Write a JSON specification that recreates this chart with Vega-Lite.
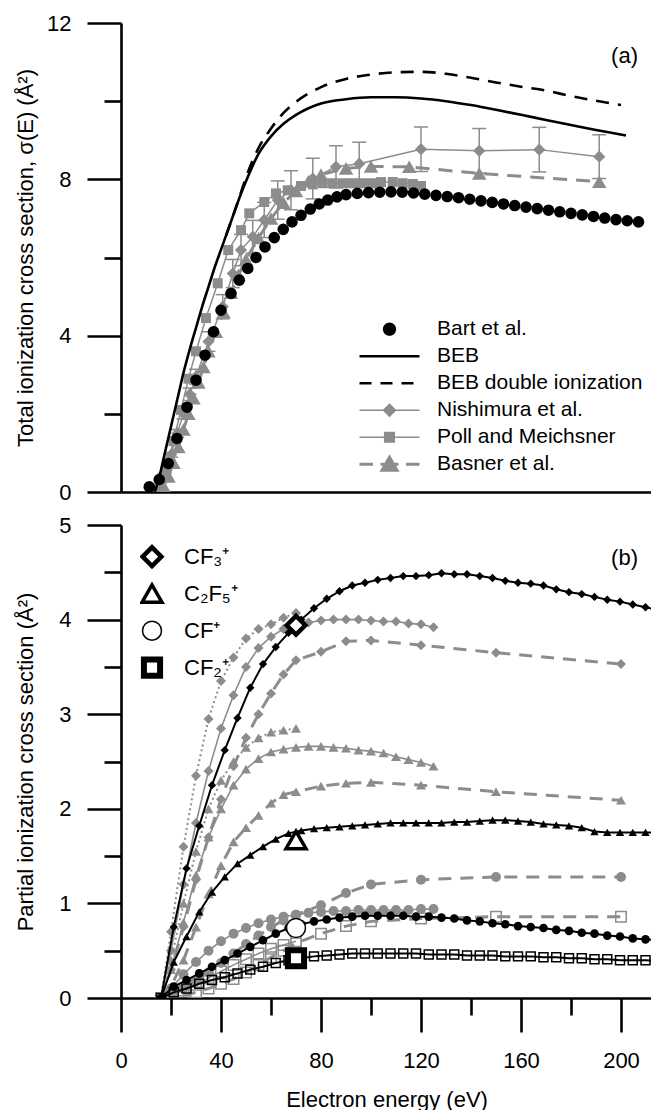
{
"$schema":"https://vega.github.io/schema/vega-lite/v6.json",
"padding":{"left":14,"top":12,"right":0,"bottom":0},
"bounds":"flush",
"spacing":33,
"config":{"font":"Liberation Sans","view":{"stroke":null},
"axis":{"domainColor":"black","domainWidth":2.6,"tickColor":"black","tickWidth":2.6,"labelColor":"black","titleColor":"black","labelFontSize":22,"titleFontSize":22,"titleFontWeight":"normal","grid":false,"labelFont":"Liberation Sans","titleFont":"Liberation Sans","labelFlush":false,"labelOverlap":false},
"legend":{"labelFontSize":21,"labelColor":"black","labelFont":"Liberation Sans","labelLimit":0}},
"resolve":{"scale":{"shape":"independent","size":"independent","strokeWidth":"independent","fillOpacity":"independent","color":"independent","fill":"independent","stroke":"independent"},"legend":{"shape":"independent","size":"independent","strokeWidth":"independent","fill":"independent","stroke":"independent"}},
"datasets":{
"top":[
{"series":"Bart et al.","E":11.3,"s":0.13},{"series":"Bart et al.","E":15.3,"s":0.32},{"series":"Bart et al.","E":18.9,"s":0.73},{"series":"Bart et al.","E":22.4,"s":1.37},{"series":"Bart et al.","E":26.4,"s":2.17},{"series":"Bart et al.","E":30,"s":2.86},{"series":"Bart et al.","E":33.6,"s":3.5},{"series":"Bart et al.","E":37,"s":4.1},{"series":"Bart et al.","E":40,"s":4.65},{"series":"Bart et al.","E":44,"s":5.08},{"series":"Bart et al.","E":47.3,"s":5.42},{"series":"Bart et al.","E":50.7,"s":5.72},{"series":"Bart et al.","E":54,"s":6.0},{"series":"Bart et al.","E":57.6,"s":6.27},{"series":"Bart et al.","E":61.3,"s":6.51},{"series":"Bart et al.","E":64.9,"s":6.72},{"series":"Bart et al.","E":68.4,"s":6.91},{"series":"Bart et al.","E":72,"s":7.08},{"series":"Bart et al.","E":75.7,"s":7.24},{"series":"Bart et al.","E":79.3,"s":7.37},{"series":"Bart et al.","E":82.7,"s":7.47},{"series":"Bart et al.","E":86.4,"s":7.55},{"series":"Bart et al.","E":90,"s":7.61},{"series":"Bart et al.","E":94.5,"s":7.64},{"series":"Bart et al.","E":99,"s":7.66},{"series":"Bart et al.","E":103.5,"s":7.67},{"series":"Bart et al.","E":108,"s":7.68},{"series":"Bart et al.","E":112.5,"s":7.67},{"series":"Bart et al.","E":117,"s":7.65},{"series":"Bart et al.","E":121.5,"s":7.62},{"series":"Bart et al.","E":126,"s":7.59},{"series":"Bart et al.","E":130.5,"s":7.56},{"series":"Bart et al.","E":135,"s":7.53},{"series":"Bart et al.","E":139.5,"s":7.49},{"series":"Bart et al.","E":144,"s":7.45},{"series":"Bart et al.","E":148.5,"s":7.41},{"series":"Bart et al.","E":153,"s":7.37},{"series":"Bart et al.","E":157.5,"s":7.33},{"series":"Bart et al.","E":162,"s":7.29},{"series":"Bart et al.","E":166.5,"s":7.25},{"series":"Bart et al.","E":171,"s":7.21},{"series":"Bart et al.","E":175.5,"s":7.17},{"series":"Bart et al.","E":180,"s":7.13},{"series":"Bart et al.","E":184.5,"s":7.09},{"series":"Bart et al.","E":189,"s":7.05},{"series":"Bart et al.","E":193.5,"s":7.01},{"series":"Bart et al.","E":198,"s":6.97},{"series":"Bart et al.","E":202.5,"s":6.94},{"series":"Bart et al.","E":207,"s":6.91},
{"series":"BEB","E":13.5,"s":0},{"series":"BEB","E":15,"s":0.3},{"series":"BEB","E":17,"s":0.85},{"series":"BEB","E":19,"s":1.4},{"series":"BEB","E":21,"s":1.95},{"series":"BEB","E":23,"s":2.5},{"series":"BEB","E":25,"s":3.05},{"series":"BEB","E":27.5,"s":3.65},{"series":"BEB","E":30,"s":4.2},{"series":"BEB","E":32.5,"s":4.75},{"series":"BEB","E":35,"s":5.25},{"series":"BEB","E":37.5,"s":5.75},{"series":"BEB","E":40,"s":6.2},{"series":"BEB","E":42.5,"s":6.65},{"series":"BEB","E":45,"s":7.1},{"series":"BEB","E":47.5,"s":7.55},{"series":"BEB","E":50,"s":7.95},{"series":"BEB","E":55,"s":8.65},{"series":"BEB","E":60,"s":9.1},{"series":"BEB","E":65,"s":9.42},{"series":"BEB","E":70,"s":9.65},{"series":"BEB","E":75,"s":9.82},{"series":"BEB","E":80,"s":9.94},{"series":"BEB","E":90,"s":10.05},{"series":"BEB","E":100,"s":10.1},{"series":"BEB","E":110,"s":10.1},{"series":"BEB","E":120,"s":10.07},{"series":"BEB","E":130,"s":10.0},{"series":"BEB","E":140,"s":9.9},{"series":"BEB","E":150,"s":9.78},{"series":"BEB","E":160,"s":9.65},{"series":"BEB","E":170,"s":9.52},{"series":"BEB","E":180,"s":9.39},{"series":"BEB","E":190,"s":9.26},{"series":"BEB","E":202,"s":9.12},
{"series":"BEB double ionization","E":42,"s":6.56},{"series":"BEB double ionization","E":45,"s":7.1},{"series":"BEB double ionization","E":47.5,"s":7.57},{"series":"BEB double ionization","E":50,"s":8.05},{"series":"BEB double ionization","E":55,"s":8.8},{"series":"BEB double ionization","E":60,"s":9.3},{"series":"BEB double ionization","E":65,"s":9.7},{"series":"BEB double ionization","E":70,"s":9.98},{"series":"BEB double ionization","E":80,"s":10.36},{"series":"BEB double ionization","E":90,"s":10.57},{"series":"BEB double ionization","E":100,"s":10.68},{"series":"BEB double ionization","E":110,"s":10.74},{"series":"BEB double ionization","E":120,"s":10.75},{"series":"BEB double ionization","E":130,"s":10.7},{"series":"BEB double ionization","E":140,"s":10.6},{"series":"BEB double ionization","E":150,"s":10.48},{"series":"BEB double ionization","E":160,"s":10.37},{"series":"BEB double ionization","E":170,"s":10.27},{"series":"BEB double ionization","E":180,"s":10.13},{"series":"BEB double ionization","E":190,"s":10.01},{"series":"BEB double ionization","E":200,"s":9.9},
{"series":"Nishimura et al.","E":15,"s":0.05,"lo":0.047,"hi":0.053},{"series":"Nishimura et al.","E":17.5,"s":0.45,"lo":0.42,"hi":0.48},{"series":"Nishimura et al.","E":20,"s":0.95,"lo":0.89,"hi":1.01},{"series":"Nishimura et al.","E":22.5,"s":1.5,"lo":1.4,"hi":1.6},{"series":"Nishimura et al.","E":25,"s":2.0,"lo":1.87,"hi":2.13},{"series":"Nishimura et al.","E":27.5,"s":2.5,"lo":2.34,"hi":2.66},{"series":"Nishimura et al.","E":30,"s":2.95,"lo":2.76,"hi":3.14},{"series":"Nishimura et al.","E":35,"s":3.85,"lo":3.6,"hi":4.1},{"series":"Nishimura et al.","E":40.7,"s":4.74,"lo":4.43,"hi":5.05},{"series":"Nishimura et al.","E":44.7,"s":5.59,"lo":5.23,"hi":5.95},{"series":"Nishimura et al.","E":48,"s":6.19,"lo":5.79,"hi":6.59},{"series":"Nishimura et al.","E":52.7,"s":6.53,"lo":6.11,"hi":6.95},{"series":"Nishimura et al.","E":57.3,"s":6.96,"lo":6.51,"hi":7.41},{"series":"Nishimura et al.","E":62.7,"s":7.47,"lo":6.98,"hi":7.96},{"series":"Nishimura et al.","E":68,"s":7.72,"lo":7.22,"hi":8.22},{"series":"Nishimura et al.","E":76.7,"s":8.02,"lo":7.5,"hi":8.54},{"series":"Nishimura et al.","E":86,"s":8.32,"lo":7.78,"hi":8.86},{"series":"Nishimura et al.","E":95.3,"s":8.4,"lo":7.85,"hi":8.95},{"series":"Nishimura et al.","E":120,"s":8.77,"lo":8.2,"hi":9.34},{"series":"Nishimura et al.","E":143.3,"s":8.73,"lo":8.16,"hi":9.3},{"series":"Nishimura et al.","E":167.3,"s":8.76,"lo":8.19,"hi":9.33},{"series":"Nishimura et al.","E":191.3,"s":8.58,"lo":8.02,"hi":9.14},
{"series":"Poll and Meichsner","E":15,"s":0.1},{"series":"Poll and Meichsner","E":18,"s":0.6},{"series":"Poll and Meichsner","E":21,"s":1.3},{"series":"Poll and Meichsner","E":24,"s":2.1},{"series":"Poll and Meichsner","E":27,"s":2.9},{"series":"Poll and Meichsner","E":30,"s":3.6},{"series":"Poll and Meichsner","E":34,"s":4.45},{"series":"Poll and Meichsner","E":38.7,"s":5.34},{"series":"Poll and Meichsner","E":42.9,"s":6.19},{"series":"Poll and Meichsner","E":48,"s":6.7},{"series":"Poll and Meichsner","E":51.3,"s":7.13},{"series":"Poll and Meichsner","E":57.3,"s":7.42},{"series":"Poll and Meichsner","E":62,"s":7.64},{"series":"Poll and Meichsner","E":66.7,"s":7.72},{"series":"Poll and Meichsner","E":72,"s":7.83},{"series":"Poll and Meichsner","E":76.7,"s":7.87},{"series":"Poll and Meichsner","E":80.7,"s":7.9},{"series":"Poll and Meichsner","E":84.7,"s":7.9},{"series":"Poll and Meichsner","E":88.7,"s":7.9},{"series":"Poll and Meichsner","E":92,"s":7.9},{"series":"Poll and Meichsner","E":96,"s":7.9},{"series":"Poll and Meichsner","E":100,"s":7.9},{"series":"Poll and Meichsner","E":104,"s":7.93},{"series":"Poll and Meichsner","E":108.7,"s":7.93},{"series":"Poll and Meichsner","E":112.7,"s":7.9},{"series":"Poll and Meichsner","E":116.7,"s":7.88},{"series":"Poll and Meichsner","E":120,"s":7.83},
{"series":"Basner et al.","E":15,"s":0},{"series":"Basner et al.","E":17,"s":0.15},{"series":"Basner et al.","E":19,"s":0.4},{"series":"Basner et al.","E":21,"s":0.75},{"series":"Basner et al.","E":23,"s":1.15},{"series":"Basner et al.","E":25,"s":1.6},{"series":"Basner et al.","E":27,"s":2.0},{"series":"Basner et al.","E":29,"s":2.4},{"series":"Basner et al.","E":31,"s":2.8},{"series":"Basner et al.","E":33,"s":3.2},{"series":"Basner et al.","E":35,"s":3.6},{"series":"Basner et al.","E":38,"s":4.1},{"series":"Basner et al.","E":41,"s":4.6},{"series":"Basner et al.","E":44,"s":5.1},{"series":"Basner et al.","E":47,"s":5.55},{"series":"Basner et al.","E":50,"s":5.95},{"series":"Basner et al.","E":55,"s":6.5},{"series":"Basner et al.","E":60,"s":7.0},{"series":"Basner et al.","E":65,"s":7.4},{"series":"Basner et al.","E":70,"s":7.7},{"series":"Basner et al.","E":75,"s":7.95},{"series":"Basner et al.","E":80,"s":8.12},{"series":"Basner et al.","E":90,"s":8.28},{"series":"Basner et al.","E":100,"s":8.33},{"series":"Basner et al.","E":115.3,"s":8.32},{"series":"Basner et al.","E":143.3,"s":8.15},{"series":"Basner et al.","E":191.3,"s":7.94}
],
"bot":[
{"src":"Bart","ion":"CF₃⁺","E":16,"s":0},{"src":"Bart","ion":"CF₃⁺","E":21.1,"s":0.75},{"src":"Bart","ion":"CF₃⁺","E":26.2,"s":1.37},{"src":"Bart","ion":"CF₃⁺","E":31.3,"s":1.82},{"src":"Bart","ion":"CF₃⁺","E":36.4,"s":2.25},{"src":"Bart","ion":"CF₃⁺","E":41.5,"s":2.62},{"src":"Bart","ion":"CF₃⁺","E":46.6,"s":2.96},{"src":"Bart","ion":"CF₃⁺","E":51.7,"s":3.28},{"src":"Bart","ion":"CF₃⁺","E":56.8,"s":3.53},{"src":"Bart","ion":"CF₃⁺","E":61.9,"s":3.71},{"src":"Bart","ion":"CF₃⁺","E":67,"s":3.86},{"src":"Bart","ion":"CF₃⁺","E":72.1,"s":4.0},{"src":"Bart","ion":"CF₃⁺","E":77.2,"s":4.12},{"src":"Bart","ion":"CF₃⁺","E":82.3,"s":4.22},{"src":"Bart","ion":"CF₃⁺","E":87.4,"s":4.3},{"src":"Bart","ion":"CF₃⁺","E":92.5,"s":4.36},{"src":"Bart","ion":"CF₃⁺","E":97.6,"s":4.39},{"src":"Bart","ion":"CF₃⁺","E":102.7,"s":4.42},{"src":"Bart","ion":"CF₃⁺","E":107.8,"s":4.44},{"src":"Bart","ion":"CF₃⁺","E":112.9,"s":4.46},{"src":"Bart","ion":"CF₃⁺","E":118,"s":4.46},{"src":"Bart","ion":"CF₃⁺","E":123.1,"s":4.47},{"src":"Bart","ion":"CF₃⁺","E":128.2,"s":4.49},{"src":"Bart","ion":"CF₃⁺","E":133.3,"s":4.48},{"src":"Bart","ion":"CF₃⁺","E":138.4,"s":4.48},{"src":"Bart","ion":"CF₃⁺","E":143.5,"s":4.46},{"src":"Bart","ion":"CF₃⁺","E":148.6,"s":4.44},{"src":"Bart","ion":"CF₃⁺","E":153.7,"s":4.41},{"src":"Bart","ion":"CF₃⁺","E":158.8,"s":4.39},{"src":"Bart","ion":"CF₃⁺","E":163.9,"s":4.38},{"src":"Bart","ion":"CF₃⁺","E":169,"s":4.36},{"src":"Bart","ion":"CF₃⁺","E":174.1,"s":4.32},{"src":"Bart","ion":"CF₃⁺","E":179.2,"s":4.29},{"src":"Bart","ion":"CF₃⁺","E":184.3,"s":4.27},{"src":"Bart","ion":"CF₃⁺","E":189.4,"s":4.24},{"src":"Bart","ion":"CF₃⁺","E":194.5,"s":4.21},{"src":"Bart","ion":"CF₃⁺","E":199.6,"s":4.19},{"src":"Bart","ion":"CF₃⁺","E":204.7,"s":4.16},{"src":"Bart","ion":"CF₃⁺","E":209.8,"s":4.13},{"src":"Bart","ion":"CF₃⁺","E":214.9,"s":4.1},
{"src":"Bart","ion":"C₂F₅⁺","E":16,"s":0},{"src":"Bart","ion":"C₂F₅⁺","E":21.1,"s":0.38},{"src":"Bart","ion":"C₂F₅⁺","E":26.2,"s":0.65},{"src":"Bart","ion":"C₂F₅⁺","E":31.3,"s":0.91},{"src":"Bart","ion":"C₂F₅⁺","E":36.4,"s":1.12},{"src":"Bart","ion":"C₂F₅⁺","E":41.5,"s":1.28},{"src":"Bart","ion":"C₂F₅⁺","E":46.6,"s":1.42},{"src":"Bart","ion":"C₂F₅⁺","E":51.7,"s":1.51},{"src":"Bart","ion":"C₂F₅⁺","E":56.8,"s":1.6},{"src":"Bart","ion":"C₂F₅⁺","E":61.9,"s":1.68},{"src":"Bart","ion":"C₂F₅⁺","E":67,"s":1.74},{"src":"Bart","ion":"C₂F₅⁺","E":72.1,"s":1.77},{"src":"Bart","ion":"C₂F₅⁺","E":77.2,"s":1.79},{"src":"Bart","ion":"C₂F₅⁺","E":82.3,"s":1.8},{"src":"Bart","ion":"C₂F₅⁺","E":87.4,"s":1.81},{"src":"Bart","ion":"C₂F₅⁺","E":92.5,"s":1.82},{"src":"Bart","ion":"C₂F₅⁺","E":97.6,"s":1.83},{"src":"Bart","ion":"C₂F₅⁺","E":102.7,"s":1.84},{"src":"Bart","ion":"C₂F₅⁺","E":107.8,"s":1.85},{"src":"Bart","ion":"C₂F₅⁺","E":112.9,"s":1.85},{"src":"Bart","ion":"C₂F₅⁺","E":118,"s":1.85},{"src":"Bart","ion":"C₂F₅⁺","E":123.1,"s":1.85},{"src":"Bart","ion":"C₂F₅⁺","E":128.2,"s":1.85},{"src":"Bart","ion":"C₂F₅⁺","E":133.3,"s":1.86},{"src":"Bart","ion":"C₂F₅⁺","E":138.4,"s":1.86},{"src":"Bart","ion":"C₂F₅⁺","E":143.5,"s":1.87},{"src":"Bart","ion":"C₂F₅⁺","E":148.6,"s":1.88},{"src":"Bart","ion":"C₂F₅⁺","E":153.7,"s":1.88},{"src":"Bart","ion":"C₂F₅⁺","E":158.8,"s":1.87},{"src":"Bart","ion":"C₂F₅⁺","E":163.9,"s":1.86},{"src":"Bart","ion":"C₂F₅⁺","E":169,"s":1.84},{"src":"Bart","ion":"C₂F₅⁺","E":174.1,"s":1.83},{"src":"Bart","ion":"C₂F₅⁺","E":179.2,"s":1.82},{"src":"Bart","ion":"C₂F₅⁺","E":184.3,"s":1.8},{"src":"Bart","ion":"C₂F₅⁺","E":189.4,"s":1.76},{"src":"Bart","ion":"C₂F₅⁺","E":194.5,"s":1.75},{"src":"Bart","ion":"C₂F₅⁺","E":199.6,"s":1.75},{"src":"Bart","ion":"C₂F₅⁺","E":204.7,"s":1.75},{"src":"Bart","ion":"C₂F₅⁺","E":209.8,"s":1.75},{"src":"Bart","ion":"C₂F₅⁺","E":214.9,"s":1.75},
{"src":"Bart","ion":"CF⁺","E":16,"s":0},{"src":"Bart","ion":"CF⁺","E":21.1,"s":0.12},{"src":"Bart","ion":"CF⁺","E":26.2,"s":0.19},{"src":"Bart","ion":"CF⁺","E":31.3,"s":0.26},{"src":"Bart","ion":"CF⁺","E":36.4,"s":0.33},{"src":"Bart","ion":"CF⁺","E":41.5,"s":0.4},{"src":"Bart","ion":"CF⁺","E":46.6,"s":0.47},{"src":"Bart","ion":"CF⁺","E":51.7,"s":0.54},{"src":"Bart","ion":"CF⁺","E":56.8,"s":0.61},{"src":"Bart","ion":"CF⁺","E":61.9,"s":0.68},{"src":"Bart","ion":"CF⁺","E":67,"s":0.74},{"src":"Bart","ion":"CF⁺","E":72.1,"s":0.78},{"src":"Bart","ion":"CF⁺","E":77.2,"s":0.81},{"src":"Bart","ion":"CF⁺","E":82.3,"s":0.83},{"src":"Bart","ion":"CF⁺","E":87.4,"s":0.85},{"src":"Bart","ion":"CF⁺","E":92.5,"s":0.86},{"src":"Bart","ion":"CF⁺","E":97.6,"s":0.87},{"src":"Bart","ion":"CF⁺","E":102.7,"s":0.87},{"src":"Bart","ion":"CF⁺","E":107.8,"s":0.87},{"src":"Bart","ion":"CF⁺","E":112.9,"s":0.87},{"src":"Bart","ion":"CF⁺","E":118,"s":0.86},{"src":"Bart","ion":"CF⁺","E":123.1,"s":0.86},{"src":"Bart","ion":"CF⁺","E":128.2,"s":0.85},{"src":"Bart","ion":"CF⁺","E":133.3,"s":0.84},{"src":"Bart","ion":"CF⁺","E":138.4,"s":0.82},{"src":"Bart","ion":"CF⁺","E":143.5,"s":0.81},{"src":"Bart","ion":"CF⁺","E":148.6,"s":0.79},{"src":"Bart","ion":"CF⁺","E":153.7,"s":0.78},{"src":"Bart","ion":"CF⁺","E":158.8,"s":0.76},{"src":"Bart","ion":"CF⁺","E":163.9,"s":0.75},{"src":"Bart","ion":"CF⁺","E":169,"s":0.74},{"src":"Bart","ion":"CF⁺","E":174.1,"s":0.72},{"src":"Bart","ion":"CF⁺","E":179.2,"s":0.71},{"src":"Bart","ion":"CF⁺","E":184.3,"s":0.69},{"src":"Bart","ion":"CF⁺","E":189.4,"s":0.68},{"src":"Bart","ion":"CF⁺","E":194.5,"s":0.66},{"src":"Bart","ion":"CF⁺","E":199.6,"s":0.65},{"src":"Bart","ion":"CF⁺","E":204.7,"s":0.63},{"src":"Bart","ion":"CF⁺","E":209.8,"s":0.62},{"src":"Bart","ion":"CF⁺","E":214.9,"s":0.61},
{"src":"Bart","ion":"CF₂⁺","E":16,"s":0},{"src":"Bart","ion":"CF₂⁺","E":21.1,"s":0.06},{"src":"Bart","ion":"CF₂⁺","E":26.2,"s":0.1},{"src":"Bart","ion":"CF₂⁺","E":31.3,"s":0.15},{"src":"Bart","ion":"CF₂⁺","E":36.4,"s":0.19},{"src":"Bart","ion":"CF₂⁺","E":41.5,"s":0.22},{"src":"Bart","ion":"CF₂⁺","E":46.6,"s":0.26},{"src":"Bart","ion":"CF₂⁺","E":51.7,"s":0.3},{"src":"Bart","ion":"CF₂⁺","E":56.8,"s":0.33},{"src":"Bart","ion":"CF₂⁺","E":61.9,"s":0.37},{"src":"Bart","ion":"CF₂⁺","E":67,"s":0.4},{"src":"Bart","ion":"CF₂⁺","E":72.1,"s":0.42},{"src":"Bart","ion":"CF₂⁺","E":77.2,"s":0.44},{"src":"Bart","ion":"CF₂⁺","E":82.3,"s":0.45},{"src":"Bart","ion":"CF₂⁺","E":87.4,"s":0.46},{"src":"Bart","ion":"CF₂⁺","E":92.5,"s":0.47},{"src":"Bart","ion":"CF₂⁺","E":97.6,"s":0.47},{"src":"Bart","ion":"CF₂⁺","E":102.7,"s":0.47},{"src":"Bart","ion":"CF₂⁺","E":107.8,"s":0.47},{"src":"Bart","ion":"CF₂⁺","E":112.9,"s":0.47},{"src":"Bart","ion":"CF₂⁺","E":118,"s":0.47},{"src":"Bart","ion":"CF₂⁺","E":123.1,"s":0.46},{"src":"Bart","ion":"CF₂⁺","E":128.2,"s":0.46},{"src":"Bart","ion":"CF₂⁺","E":133.3,"s":0.46},{"src":"Bart","ion":"CF₂⁺","E":138.4,"s":0.45},{"src":"Bart","ion":"CF₂⁺","E":143.5,"s":0.45},{"src":"Bart","ion":"CF₂⁺","E":148.6,"s":0.45},{"src":"Bart","ion":"CF₂⁺","E":153.7,"s":0.44},{"src":"Bart","ion":"CF₂⁺","E":158.8,"s":0.44},{"src":"Bart","ion":"CF₂⁺","E":163.9,"s":0.44},{"src":"Bart","ion":"CF₂⁺","E":169,"s":0.43},{"src":"Bart","ion":"CF₂⁺","E":174.1,"s":0.43},{"src":"Bart","ion":"CF₂⁺","E":179.2,"s":0.42},{"src":"Bart","ion":"CF₂⁺","E":184.3,"s":0.42},{"src":"Bart","ion":"CF₂⁺","E":189.4,"s":0.41},{"src":"Bart","ion":"CF₂⁺","E":194.5,"s":0.41},{"src":"Bart","ion":"CF₂⁺","E":199.6,"s":0.4},{"src":"Bart","ion":"CF₂⁺","E":204.7,"s":0.4},{"src":"Bart","ion":"CF₂⁺","E":209.8,"s":0.4},{"src":"Bart","ion":"CF₂⁺","E":214.9,"s":0.39},
{"src":"Nishimura","ion":"CF₃⁺","E":16,"s":0},{"src":"Nishimura","ion":"CF₃⁺","E":20,"s":0.5},{"src":"Nishimura","ion":"CF₃⁺","E":25,"s":1.2},{"src":"Nishimura","ion":"CF₃⁺","E":30,"s":1.85},{"src":"Nishimura","ion":"CF₃⁺","E":35,"s":2.4},{"src":"Nishimura","ion":"CF₃⁺","E":40,"s":2.85},{"src":"Nishimura","ion":"CF₃⁺","E":45,"s":3.2},{"src":"Nishimura","ion":"CF₃⁺","E":50,"s":3.5},{"src":"Nishimura","ion":"CF₃⁺","E":55,"s":3.7},{"src":"Nishimura","ion":"CF₃⁺","E":60,"s":3.82},{"src":"Nishimura","ion":"CF₃⁺","E":65,"s":3.9},{"src":"Nishimura","ion":"CF₃⁺","E":70,"s":3.95},{"src":"Nishimura","ion":"CF₃⁺","E":75,"s":3.97},{"src":"Nishimura","ion":"CF₃⁺","E":80,"s":3.99},{"src":"Nishimura","ion":"CF₃⁺","E":85,"s":4.0},{"src":"Nishimura","ion":"CF₃⁺","E":90,"s":4.0},{"src":"Nishimura","ion":"CF₃⁺","E":95,"s":4.0},{"src":"Nishimura","ion":"CF₃⁺","E":100,"s":3.99},{"src":"Nishimura","ion":"CF₃⁺","E":105,"s":3.98},{"src":"Nishimura","ion":"CF₃⁺","E":110,"s":3.98},{"src":"Nishimura","ion":"CF₃⁺","E":115,"s":3.96},{"src":"Nishimura","ion":"CF₃⁺","E":120,"s":3.95},{"src":"Nishimura","ion":"CF₃⁺","E":125,"s":3.92},
{"src":"Nishimura","ion":"C₂F₅⁺","E":16,"s":0},{"src":"Nishimura","ion":"C₂F₅⁺","E":20,"s":0.3},{"src":"Nishimura","ion":"C₂F₅⁺","E":25,"s":0.8},{"src":"Nishimura","ion":"C₂F₅⁺","E":30,"s":1.3},{"src":"Nishimura","ion":"C₂F₅⁺","E":35,"s":1.7},{"src":"Nishimura","ion":"C₂F₅⁺","E":40,"s":2.0},{"src":"Nishimura","ion":"C₂F₅⁺","E":45,"s":2.25},{"src":"Nishimura","ion":"C₂F₅⁺","E":50,"s":2.42},{"src":"Nishimura","ion":"C₂F₅⁺","E":55,"s":2.53},{"src":"Nishimura","ion":"C₂F₅⁺","E":60,"s":2.6},{"src":"Nishimura","ion":"C₂F₅⁺","E":65,"s":2.63},{"src":"Nishimura","ion":"C₂F₅⁺","E":70,"s":2.65},{"src":"Nishimura","ion":"C₂F₅⁺","E":75,"s":2.66},{"src":"Nishimura","ion":"C₂F₅⁺","E":80,"s":2.66},{"src":"Nishimura","ion":"C₂F₅⁺","E":85,"s":2.65},{"src":"Nishimura","ion":"C₂F₅⁺","E":90,"s":2.64},{"src":"Nishimura","ion":"C₂F₅⁺","E":95,"s":2.62},{"src":"Nishimura","ion":"C₂F₅⁺","E":100,"s":2.61},{"src":"Nishimura","ion":"C₂F₅⁺","E":105,"s":2.59},{"src":"Nishimura","ion":"C₂F₅⁺","E":110,"s":2.55},{"src":"Nishimura","ion":"C₂F₅⁺","E":115,"s":2.52},{"src":"Nishimura","ion":"C₂F₅⁺","E":120,"s":2.49},{"src":"Nishimura","ion":"C₂F₅⁺","E":125,"s":2.45},
{"src":"Nishimura","ion":"CF⁺","E":16,"s":0},{"src":"Nishimura","ion":"CF⁺","E":20,"s":0.1},{"src":"Nishimura","ion":"CF⁺","E":25,"s":0.25},{"src":"Nishimura","ion":"CF⁺","E":30,"s":0.38},{"src":"Nishimura","ion":"CF⁺","E":35,"s":0.5},{"src":"Nishimura","ion":"CF⁺","E":40,"s":0.6},{"src":"Nishimura","ion":"CF⁺","E":45,"s":0.68},{"src":"Nishimura","ion":"CF⁺","E":50,"s":0.74},{"src":"Nishimura","ion":"CF⁺","E":55,"s":0.79},{"src":"Nishimura","ion":"CF⁺","E":60,"s":0.83},{"src":"Nishimura","ion":"CF⁺","E":65,"s":0.86},{"src":"Nishimura","ion":"CF⁺","E":70,"s":0.88},{"src":"Nishimura","ion":"CF⁺","E":75,"s":0.9},{"src":"Nishimura","ion":"CF⁺","E":80,"s":0.91},{"src":"Nishimura","ion":"CF⁺","E":85,"s":0.92},{"src":"Nishimura","ion":"CF⁺","E":90,"s":0.92},{"src":"Nishimura","ion":"CF⁺","E":95,"s":0.93},{"src":"Nishimura","ion":"CF⁺","E":100,"s":0.93},{"src":"Nishimura","ion":"CF⁺","E":105,"s":0.93},{"src":"Nishimura","ion":"CF⁺","E":110,"s":0.93},{"src":"Nishimura","ion":"CF⁺","E":115,"s":0.93},{"src":"Nishimura","ion":"CF⁺","E":120,"s":0.94},{"src":"Nishimura","ion":"CF⁺","E":125,"s":0.94},
{"src":"Nishimura","ion":"CF₂⁺","E":16,"s":0},{"src":"Nishimura","ion":"CF₂⁺","E":20,"s":0.03},{"src":"Nishimura","ion":"CF₂⁺","E":25,"s":0.08},{"src":"Nishimura","ion":"CF₂⁺","E":30,"s":0.14},{"src":"Nishimura","ion":"CF₂⁺","E":35,"s":0.21},{"src":"Nishimura","ion":"CF₂⁺","E":40,"s":0.28},{"src":"Nishimura","ion":"CF₂⁺","E":45,"s":0.35},{"src":"Nishimura","ion":"CF₂⁺","E":50,"s":0.41},{"src":"Nishimura","ion":"CF₂⁺","E":55,"s":0.47},{"src":"Nishimura","ion":"CF₂⁺","E":60,"s":0.52},{"src":"Nishimura","ion":"CF₂⁺","E":65,"s":0.56},{"src":"Nishimura","ion":"CF₂⁺","E":70,"s":0.6},
{"src":"Poll","ion":"CF₃⁺","E":16,"s":0},{"src":"Poll","ion":"CF₃⁺","E":20,"s":0.7},{"src":"Poll","ion":"CF₃⁺","E":25,"s":1.6},{"src":"Poll","ion":"CF₃⁺","E":30,"s":2.35},{"src":"Poll","ion":"CF₃⁺","E":35,"s":2.95},{"src":"Poll","ion":"CF₃⁺","E":40,"s":3.35},{"src":"Poll","ion":"CF₃⁺","E":45,"s":3.6},{"src":"Poll","ion":"CF₃⁺","E":50,"s":3.8},{"src":"Poll","ion":"CF₃⁺","E":55,"s":3.9},{"src":"Poll","ion":"CF₃⁺","E":60,"s":3.95},{"src":"Poll","ion":"CF₃⁺","E":65,"s":4.02},{"src":"Poll","ion":"CF₃⁺","E":70,"s":4.07},
{"src":"Poll","ion":"C₂F₅⁺","E":16,"s":0},{"src":"Poll","ion":"C₂F₅⁺","E":20,"s":0.4},{"src":"Poll","ion":"C₂F₅⁺","E":25,"s":1.0},{"src":"Poll","ion":"C₂F₅⁺","E":30,"s":1.55},{"src":"Poll","ion":"C₂F₅⁺","E":35,"s":2.0},{"src":"Poll","ion":"C₂F₅⁺","E":40,"s":2.3},{"src":"Poll","ion":"C₂F₅⁺","E":45,"s":2.5},{"src":"Poll","ion":"C₂F₅⁺","E":50,"s":2.65},{"src":"Poll","ion":"C₂F₅⁺","E":55,"s":2.75},{"src":"Poll","ion":"C₂F₅⁺","E":60,"s":2.81},{"src":"Poll","ion":"C₂F₅⁺","E":65,"s":2.83},{"src":"Poll","ion":"C₂F₅⁺","E":70,"s":2.85},
{"src":"Basner","ion":"CF₃⁺","E":16,"s":0},{"src":"Basner","ion":"CF₃⁺","E":20,"s":0.3},{"src":"Basner","ion":"CF₃⁺","E":25,"s":0.75},{"src":"Basner","ion":"CF₃⁺","E":30,"s":1.25},{"src":"Basner","ion":"CF₃⁺","E":35,"s":1.7},{"src":"Basner","ion":"CF₃⁺","E":40,"s":2.1},{"src":"Basner","ion":"CF₃⁺","E":45,"s":2.45},{"src":"Basner","ion":"CF₃⁺","E":50,"s":2.75},{"src":"Basner","ion":"CF₃⁺","E":55,"s":3.0},{"src":"Basner","ion":"CF₃⁺","E":60,"s":3.22},{"src":"Basner","ion":"CF₃⁺","E":65,"s":3.42},{"src":"Basner","ion":"CF₃⁺","E":70,"s":3.57},{"src":"Basner","ion":"CF₃⁺","E":80,"s":3.66},{"src":"Basner","ion":"CF₃⁺","E":90,"s":3.77},{"src":"Basner","ion":"CF₃⁺","E":100,"s":3.78},{"src":"Basner","ion":"CF₃⁺","E":120,"s":3.73},{"src":"Basner","ion":"CF₃⁺","E":150,"s":3.65},{"src":"Basner","ion":"CF₃⁺","E":200,"s":3.53},
{"src":"Basner","ion":"C₂F₅⁺","E":16,"s":0},{"src":"Basner","ion":"C₂F₅⁺","E":20,"s":0.12},{"src":"Basner","ion":"C₂F₅⁺","E":25,"s":0.4},{"src":"Basner","ion":"C₂F₅⁺","E":30,"s":0.75},{"src":"Basner","ion":"C₂F₅⁺","E":35,"s":1.1},{"src":"Basner","ion":"C₂F₅⁺","E":40,"s":1.4},{"src":"Basner","ion":"C₂F₅⁺","E":45,"s":1.65},{"src":"Basner","ion":"C₂F₅⁺","E":50,"s":1.8},{"src":"Basner","ion":"C₂F₅⁺","E":55,"s":1.93},{"src":"Basner","ion":"C₂F₅⁺","E":60,"s":2.06},{"src":"Basner","ion":"C₂F₅⁺","E":65,"s":2.15},{"src":"Basner","ion":"C₂F₅⁺","E":70,"s":2.18},{"src":"Basner","ion":"C₂F₅⁺","E":80,"s":2.24},{"src":"Basner","ion":"C₂F₅⁺","E":90,"s":2.27},{"src":"Basner","ion":"C₂F₅⁺","E":100,"s":2.28},{"src":"Basner","ion":"C₂F₅⁺","E":120,"s":2.25},{"src":"Basner","ion":"C₂F₅⁺","E":150,"s":2.18},{"src":"Basner","ion":"C₂F₅⁺","E":200,"s":2.09},
{"src":"Basner","ion":"CF⁺","E":16,"s":0},{"src":"Basner","ion":"CF⁺","E":20,"s":0.03},{"src":"Basner","ion":"CF⁺","E":25,"s":0.1},{"src":"Basner","ion":"CF⁺","E":30,"s":0.18},{"src":"Basner","ion":"CF⁺","E":35,"s":0.27},{"src":"Basner","ion":"CF⁺","E":40,"s":0.37},{"src":"Basner","ion":"CF⁺","E":45,"s":0.47},{"src":"Basner","ion":"CF⁺","E":50,"s":0.57},{"src":"Basner","ion":"CF⁺","E":55,"s":0.66},{"src":"Basner","ion":"CF⁺","E":60,"s":0.75},{"src":"Basner","ion":"CF⁺","E":65,"s":0.82},{"src":"Basner","ion":"CF⁺","E":70,"s":0.88},{"src":"Basner","ion":"CF⁺","E":80,"s":0.98},{"src":"Basner","ion":"CF⁺","E":90,"s":1.11},{"src":"Basner","ion":"CF⁺","E":100,"s":1.2},{"src":"Basner","ion":"CF⁺","E":120,"s":1.25},{"src":"Basner","ion":"CF⁺","E":150,"s":1.28},{"src":"Basner","ion":"CF⁺","E":200,"s":1.28},
{"src":"Basner","ion":"CF₂⁺","E":16,"s":0},{"src":"Basner","ion":"CF₂⁺","E":20,"s":0.01},{"src":"Basner","ion":"CF₂⁺","E":25,"s":0.03},{"src":"Basner","ion":"CF₂⁺","E":30,"s":0.06},{"src":"Basner","ion":"CF₂⁺","E":35,"s":0.1},{"src":"Basner","ion":"CF₂⁺","E":40,"s":0.15},{"src":"Basner","ion":"CF₂⁺","E":45,"s":0.2},{"src":"Basner","ion":"CF₂⁺","E":50,"s":0.27},{"src":"Basner","ion":"CF₂⁺","E":55,"s":0.35},{"src":"Basner","ion":"CF₂⁺","E":60,"s":0.43},{"src":"Basner","ion":"CF₂⁺","E":65,"s":0.5},{"src":"Basner","ion":"CF₂⁺","E":70,"s":0.58},{"src":"Basner","ion":"CF₂⁺","E":80,"s":0.68},{"src":"Basner","ion":"CF₂⁺","E":90,"s":0.76},{"src":"Basner","ion":"CF₂⁺","E":100,"s":0.81},{"src":"Basner","ion":"CF₂⁺","E":120,"s":0.84},{"src":"Basner","ion":"CF₂⁺","E":150,"s":0.86},{"src":"Basner","ion":"CF₂⁺","E":200,"s":0.86}
],
"big":[{"ion":"CF₃⁺","E":70,"s":3.94},{"ion":"C₂F₅⁺","E":70,"s":1.67},{"ion":"CF⁺","E":70,"s":0.74},{"ion":"CF₂⁺","E":70,"s":0.42}]
},
"vconcat":[
{"width":531,"height":469,
"title":{"text":"(a)","anchor":"end","frame":"group","orient":"top","offset":0,"dx":-14,"dy":66,"baseline":"middle","fontSize":22,"fontWeight":"normal","font":"Liberation Sans","color":"black"},
"encoding":{
"x":{"field":"E","type":"quantitative","scale":{"domain":[0,212.4],"nice":false,"zero":false},"axis":{"labels":false,"ticks":false,"title":null}},
"y":{"field":"s","type":"quantitative","scale":{"domain":[0,12],"nice":false},"axis":{"values":[0,2,4,6,8,10,12],"labelExpr":"datum.value % 4 === 0 ? datum.label : ''","tickSize":34,"tickDash":{"condition":{"test":"datum.value % 4 !== 0","value":[17,40]},"value":[100,0]},"labelPadding":16,"minExtent":74,"maxExtent":74,"title":"Total ionization cross section, σ(E)  (Å²)","titlePadding":10}}},
"layer":[
{"data":{"values":[{}]},"mark":{"type":"rule","color":"black","strokeWidth":2.6},"encoding":{
"x":{"datum":0,"type":"quantitative","scale":{"domain":[0,212.4],"nice":false,"zero":false},"axis":{"labels":false,"ticks":false,"title":null}},
"x2":{"datum":212.4},
"y":{"datum":12,"type":"quantitative","scale":{"domain":[0,12],"nice":false},"axis":{"values":[0,2,4,6,8,10,12],"labelExpr":"datum.value % 4 === 0 ? datum.label : ''","tickSize":34,"tickDash":{"condition":{"test":"datum.value % 4 !== 0","value":[17,40]},"value":[100,0]},"labelPadding":16,"minExtent":74,"maxExtent":74,"title":"Total ionization cross section, σ(E)  (Å²)","titlePadding":10}}}},
{"data":{"name":"top"},"transform":[{"filter":"datum.series === 'Basner et al.'"}],"mark":{"type":"line","color":"#8c8c8c","strokeWidth":3,"strokeDash":[14,9],"clip":true}},
{"data":{"name":"top"},"transform":[{"filter":"datum.series === 'Poll and Meichsner'"}],"mark":{"type":"line","color":"#8c8c8c","strokeWidth":1.5,"clip":true}},
{"data":{"name":"top"},"transform":[{"filter":"datum.series === 'Nishimura et al.'"}],"mark":{"type":"line","color":"#8c8c8c","strokeWidth":1.5,"clip":true}},
{"data":{"name":"top"},"transform":[{"filter":"datum.series === 'Nishimura et al.'"}],"mark":{"type":"rule","color":"#8c8c8c","strokeWidth":1.5,"clip":true},
"encoding":{"y":{"field":"lo","type":"quantitative","scale":{"domain":[0,12],"nice":false},"axis":{"values":[0,2,4,6,8,10,12],"labelExpr":"datum.value % 4 === 0 ? datum.label : ''","tickSize":34,"tickDash":{"condition":{"test":"datum.value % 4 !== 0","value":[17,40]},"value":[100,0]},"labelPadding":16,"minExtent":74,"maxExtent":74,"title":"Total ionization cross section, σ(E)  (Å²)","titlePadding":10}},"y2":{"field":"hi"}}},
{"data":{"name":"top"},"transform":[{"filter":"datum.series === 'Nishimura et al.'"}],"mark":{"type":"tick","orient":"horizontal","color":"#8c8c8c","size":14,"thickness":1.5,"opacity":1,"clip":true},
"encoding":{"y":{"field":"lo","type":"quantitative","scale":{"domain":[0,12],"nice":false},"axis":{"values":[0,2,4,6,8,10,12],"labelExpr":"datum.value % 4 === 0 ? datum.label : ''","tickSize":34,"tickDash":{"condition":{"test":"datum.value % 4 !== 0","value":[17,40]},"value":[100,0]},"labelPadding":16,"minExtent":74,"maxExtent":74,"title":"Total ionization cross section, σ(E)  (Å²)","titlePadding":10}}}},
{"data":{"name":"top"},"transform":[{"filter":"datum.series === 'Nishimura et al.'"}],"mark":{"type":"tick","orient":"horizontal","color":"#8c8c8c","size":14,"thickness":1.5,"opacity":1,"clip":true},
"encoding":{"y":{"field":"hi","type":"quantitative","scale":{"domain":[0,12],"nice":false},"axis":{"values":[0,2,4,6,8,10,12],"labelExpr":"datum.value % 4 === 0 ? datum.label : ''","tickSize":34,"tickDash":{"condition":{"test":"datum.value % 4 !== 0","value":[17,40]},"value":[100,0]},"labelPadding":16,"minExtent":74,"maxExtent":74,"title":"Total ionization cross section, σ(E)  (Å²)","titlePadding":10}}}},
{"data":{"name":"top"},"transform":[{"filter":"datum.series === 'Basner et al.'"}],"mark":{"type":"point","shape":"triangle-up","filled":true,"color":"#8c8c8c","size":210,"opacity":1,"clip":true}},
{"data":{"name":"top"},"transform":[{"filter":"datum.series === 'Poll and Meichsner'"}],"mark":{"type":"point","shape":"square","filled":true,"color":"#8c8c8c","size":100,"opacity":1,"clip":true}},
{"data":{"name":"top"},"transform":[{"filter":"datum.series === 'Nishimura et al.'"}],"mark":{"type":"point","shape":"diamond","filled":true,"color":"#8c8c8c","size":150,"opacity":1,"clip":true}},
{"data":{"name":"top"},"transform":[{"filter":"datum.series === 'BEB double ionization'"}],"mark":{"type":"line","color":"black","strokeWidth":2.6,"strokeDash":[13,9],"interpolate":"monotone","clip":true}},
{"data":{"name":"top"},"transform":[{"filter":"datum.series === 'BEB'"}],"mark":{"type":"line","color":"black","strokeWidth":2.6,"interpolate":"monotone","clip":true}},
{"data":{"name":"top"},"transform":[{"filter":"datum.series === 'Bart et al.'"}],"mark":{"type":"point","filled":true,"color":"black","size":135,"opacity":1,"clip":true}},
{"data":{"name":"top"},"transform":[{"filter":"datum.series === 'Bart et al.'"}],"mark":{"type":"point","filled":true,"opacity":0,"clip":true},
"encoding":{
"shape":{"field":"series","type":"nominal","scale":{"domain":["Bart et al.","BEB","BEB double ionization","Nishimura et al.","Poll and Meichsner","Basner et al."],"range":["M-0.22,0A0.22,0.22,0,1,1,0.22,0A0.22,0.22,0,1,1,-0.22,0Z","M-1,0H1","M-1,0H-0.6M-0.3,0H0.1M0.4,0H0.8","M-1,0H1M0,-0.2L0.2,0L0,0.2L-0.2,0Z","M-1,0H1M-0.16,-0.16H0.16V0.16H-0.16Z","M-1,0H-0.55M-0.3,0H0.3M0.55,0H1M-0.25,0.2L0,-0.23L0.25,0.2Z"]},
"legend":{"orient":"none","legendX":237,"legendY":293,"title":null,"padding":0,"symbolSize":3600,"clipHeight":26.4,"rowPadding":0,"labelOffset":16,"labelFontSize":21,"labelLimit":0,"symbolOpacity":1}},
"fill":{"field":"series","type":"nominal","scale":{"domain":["Bart et al.","BEB","BEB double ionization","Nishimura et al.","Poll and Meichsner","Basner et al."],"range":["black","transparent","transparent","#8c8c8c","#8c8c8c","#8c8c8c"]},
"legend":{"orient":"none","legendX":237,"legendY":293,"title":null,"padding":0,"symbolSize":3600,"clipHeight":26.4,"rowPadding":0,"labelOffset":16,"labelFontSize":21,"labelLimit":0,"symbolOpacity":1}},
"stroke":{"field":"series","type":"nominal","scale":{"domain":["Bart et al.","BEB","BEB double ionization","Nishimura et al.","Poll and Meichsner","Basner et al."],"range":["transparent","black","black","#8c8c8c","#8c8c8c","#8c8c8c"]},
"legend":{"orient":"none","legendX":237,"legendY":293,"title":null,"padding":0,"symbolSize":3600,"clipHeight":26.4,"rowPadding":0,"labelOffset":16,"labelFontSize":21,"labelLimit":0,"symbolOpacity":1}},
"strokeWidth":{"field":"series","type":"ordinal","scale":{"type":"ordinal","domain":["Bart et al.","BEB","BEB double ionization","Nishimura et al.","Poll and Meichsner","Basner et al."],"range":[0.1,2.6,2.6,1.5,1.5,3]},
"legend":{"orient":"none","legendX":237,"legendY":293,"title":null,"padding":0,"symbolSize":3600,"clipHeight":26.4,"rowPadding":0,"labelOffset":16,"labelFontSize":21,"labelLimit":0,"symbolOpacity":1}}}}
]},
{"width":531,"height":473,
"title":{"text":"(b)","anchor":"end","frame":"group","orient":"top","offset":0,"dx":-14,"dy":66,"baseline":"middle","fontSize":22,"fontWeight":"normal","font":"Liberation Sans","color":"black"},
"encoding":{
"x":{"field":"E","type":"quantitative","scale":{"domain":[0,212.4],"nice":false,"zero":false},"axis":{"values":[0,20,40,60,80,100,120,140,160,180,200],"labelExpr":"datum.value % 40 === 0 ? datum.label : ''","tickSize":34,"tickDash":{"condition":{"test":"datum.value % 40 !== 0","value":[17,40]},"value":[100,0]},"labelPadding":18,"title":"Electron energy  (eV)","titlePadding":18}},
"y":{"field":"s","type":"quantitative","scale":{"domain":[0,5],"nice":false},"axis":{"values":[0,0.5,1,1.5,2,2.5,3,3.5,4,4.5,5],"labelExpr":"datum.value % 1 === 0 ? format(datum.value, 'd') : ''","tickSize":34,"tickDash":{"condition":{"test":"datum.value % 1 !== 0","value":[17,40]},"value":[100,0]},"labelPadding":16,"minExtent":74,"maxExtent":74,"title":"Partial ionization cross section  (Å²)","titlePadding":10}}},
"layer":[
{"data":{"values":[{}]},"mark":{"type":"rule","color":"black","strokeWidth":2.6},"encoding":{
"x":{"datum":0,"type":"quantitative","scale":{"domain":[0,212.4],"nice":false,"zero":false},"axis":{"values":[0,20,40,60,80,100,120,140,160,180,200],"labelExpr":"datum.value % 40 === 0 ? datum.label : ''","tickSize":34,"tickDash":{"condition":{"test":"datum.value % 40 !== 0","value":[17,40]},"value":[100,0]},"labelPadding":18,"title":"Electron energy  (eV)","titlePadding":18}},
"x2":{"datum":212.4},
"y":{"datum":5,"type":"quantitative","scale":{"domain":[0,5],"nice":false},"axis":{"values":[0,0.5,1,1.5,2,2.5,3,3.5,4,4.5,5],"labelExpr":"datum.value % 1 === 0 ? format(datum.value, 'd') : ''","tickSize":34,"tickDash":{"condition":{"test":"datum.value % 1 !== 0","value":[17,40]},"value":[100,0]},"labelPadding":16,"minExtent":74,"maxExtent":74,"title":"Partial ionization cross section  (Å²)","titlePadding":10}}}},
{"data":{"name":"bot"},"transform":[{"filter":"datum.src === 'Basner'"}],"mark":{"type":"line","color":"#8c8c8c","strokeWidth":3,"strokeDash":[13,9],"clip":true},"encoding":{"detail":{"field":"ion"}}},
{"data":{"name":"bot"},"transform":[{"filter":"datum.src === 'Poll'"}],"mark":{"type":"line","color":"#8c8c8c","strokeWidth":2,"strokeDash":[2,3],"clip":true},"encoding":{"detail":{"field":"ion"}}},
{"data":{"name":"bot"},"transform":[{"filter":"datum.src === 'Nishimura'"}],"mark":{"type":"line","color":"#8c8c8c","strokeWidth":1.6,"clip":true},"encoding":{"detail":{"field":"ion"}}},
{"data":{"name":"bot"},"transform":[{"filter":"datum.src !== 'Bart' && datum.ion === 'CF₃⁺'"}],"mark":{"type":"point","shape":"diamond","filled":true,"color":"#8c8c8c","size":100,"opacity":1,"clip":true}},
{"data":{"name":"bot"},"transform":[{"filter":"datum.src !== 'Bart' && datum.ion === 'C₂F₅⁺'"}],"mark":{"type":"point","shape":"triangle-up","filled":true,"color":"#8c8c8c","size":100,"opacity":1,"clip":true}},
{"data":{"name":"bot"},"transform":[{"filter":"datum.src !== 'Bart' && datum.ion === 'CF⁺'"}],"mark":{"type":"point","shape":"circle","filled":true,"color":"#8c8c8c","size":100,"opacity":1,"clip":true}},
{"data":{"name":"bot"},"transform":[{"filter":"datum.src !== 'Bart' && datum.ion === 'CF₂⁺'"}],"mark":{"type":"point","shape":"square","filled":false,"color":"#8c8c8c","strokeWidth":1.5,"size":110,"opacity":1,"clip":true}},
{"data":{"name":"bot"},"transform":[{"filter":"datum.src === 'Bart'"}],"mark":{"type":"line","color":"black","strokeWidth":2,"clip":true},"encoding":{"detail":{"field":"ion"}}},
{"data":{"name":"bot"},"transform":[{"filter":"datum.src === 'Bart' && datum.ion === 'CF₃⁺'"}],"mark":{"type":"point","shape":"diamond","filled":true,"color":"black","size":70,"opacity":1,"clip":true}},
{"data":{"name":"bot"},"transform":[{"filter":"datum.src === 'Bart' && datum.ion === 'C₂F₅⁺'"}],"mark":{"type":"point","shape":"triangle-up","filled":true,"color":"black","size":70,"opacity":1,"clip":true}},
{"data":{"name":"bot"},"transform":[{"filter":"datum.src === 'Bart' && datum.ion === 'CF⁺'"}],"mark":{"type":"point","shape":"circle","filled":true,"color":"black","size":75,"opacity":1,"clip":true}},
{"data":{"name":"bot"},"transform":[{"filter":"datum.src === 'Bart' && datum.ion === 'CF₂⁺'"}],"mark":{"type":"point","shape":"square","filled":false,"color":"black","strokeWidth":1.5,"size":80,"opacity":1,"clip":true}},
{"data":{"name":"big"},"mark":{"type":"point","filled":true,"fill":"white","stroke":"black","opacity":1,"clip":true},
"encoding":{
"shape":{"field":"ion","type":"nominal","scale":{"domain":["CF₃⁺","C₂F₅⁺","CF⁺","CF₂⁺"],"range":["diamond","triangle-up","circle","square"]},
"legend":{"orient":"none","legendX":19,"legendY":13.3,"title":null,"padding":0,"clipHeight":36.7,"rowPadding":0,"labelOffset":20,"labelFontSize":22,"labelLimit":0,"symbolOpacity":1}},
"size":{"field":"ion","type":"ordinal","scale":{"type":"ordinal","domain":["CF₃⁺","C₂F₅⁺","CF⁺","CF₂⁺"],"range":[350,400,360,260]},
"legend":{"orient":"none","legendX":19,"legendY":13.3,"title":null,"padding":0,"clipHeight":36.7,"rowPadding":0,"labelOffset":20,"labelFontSize":22,"labelLimit":0,"symbolOpacity":1}},
"strokeWidth":{"field":"ion","type":"ordinal","scale":{"type":"ordinal","domain":["CF₃⁺","C₂F₅⁺","CF⁺","CF₂⁺"],"range":[4.5,3.5,1.5,6]},
"legend":{"orient":"none","legendX":19,"legendY":13.3,"title":null,"padding":0,"clipHeight":36.7,"rowPadding":0,"labelOffset":20,"labelFontSize":22,"labelLimit":0,"symbolOpacity":1}},
"fillOpacity":{"field":"ion","type":"nominal","scale":{"domain":["CF₃⁺","C₂F₅⁺","CF⁺","CF₂⁺"],"range":[1,1,0,1]},"legend":null}}}
]}
]
}
